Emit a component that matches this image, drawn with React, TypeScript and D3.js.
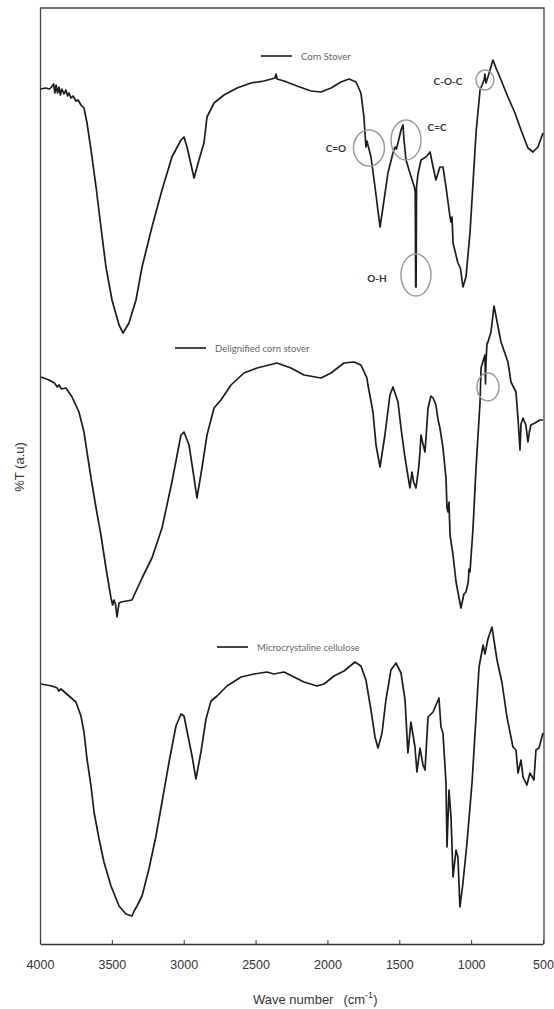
import React, { useEffect, useRef } from "react";
import * as d3 from "d3";

// x axis ticks (wave number, cm-1)
const waveTicks = [4000, 3500, 3000, 2500, 2000, 1500, 1000, 500];

// [wave number, %T in arbitrary units]
const cornStover: [number, number][] = [
  [3995, 855], [3960, 856], [3935, 855], [3920, 857], [3905, 860], [3897, 851], [3888, 859],
  [3878, 851], [3868, 857], [3858, 849], [3848, 855], [3833, 850], [3820, 854], [3808, 848],
  [3798, 851], [3785, 846], [3770, 848], [3750, 843], [3735, 844], [3715, 839], [3694, 836],
  [3673, 821], [3645, 794], [3610, 757], [3576, 717], [3541, 677], [3499, 644], [3450, 619],
  [3422, 611], [3381, 621], [3332, 644], [3290, 677], [3221, 717], [3151, 754], [3082, 787],
  [3019, 804], [2998, 807], [2977, 797], [2928, 766], [2894, 784], [2859, 801], [2838, 827],
  [2789, 841], [2720, 849], [2629, 856], [2532, 861], [2441, 863], [2365, 866], [2358, 870],
  [2350, 865], [2302, 863], [2212, 858], [2114, 853], [2045, 852], [1975, 856], [1906, 862],
  [1850, 865], [1801, 862], [1767, 851], [1746, 827], [1732, 797], [1725, 803], [1718, 799],
  [1697, 787], [1669, 757], [1634, 717], [1613, 737], [1579, 771], [1544, 791], [1530, 797],
  [1520, 795], [1509, 801], [1488, 814], [1474, 819], [1468, 805], [1453, 784], [1426, 771],
  [1395, 757], [1389, 752], [1386, 657], [1383, 657], [1380, 757], [1370, 770], [1349, 784],
  [1314, 787], [1286, 792], [1265, 777], [1245, 764], [1217, 777], [1196, 777], [1175, 757],
  [1147, 727], [1140, 722], [1133, 727], [1126, 701], [1092, 681], [1075, 676], [1057, 657],
  [1036, 667], [1008, 711], [987, 761], [966, 811], [938, 854], [910, 864], [904, 870],
  [897, 861], [883, 867], [848, 884], [827, 876], [792, 864], [744, 847], [695, 831],
  [653, 814], [605, 796], [570, 792], [535, 797], [500, 811],
];

const delignifiedStover: [number, number][] = [
  [3993, 567], [3937, 564], [3900, 561], [3880, 557], [3868, 559], [3850, 555], [3819, 556],
  [3777, 547], [3729, 532], [3694, 512], [3673, 492], [3645, 466], [3610, 436], [3576, 409],
  [3541, 376], [3506, 346], [3495, 339], [3485, 344], [3475, 340], [3464, 327], [3450, 341],
  [3436, 342], [3360, 344], [3290, 366], [3221, 386], [3151, 416], [3082, 462], [3019, 509],
  [2998, 512], [2963, 499], [2928, 466], [2908, 446], [2873, 476], [2838, 509], [2789, 536],
  [2741, 544], [2671, 559], [2581, 571], [2490, 576], [2351, 581], [2254, 576], [2163, 569],
  [2045, 566], [1975, 571], [1885, 581], [1815, 582], [1767, 579], [1725, 566], [1718, 559],
  [1683, 532], [1662, 499], [1634, 477], [1600, 509], [1565, 549], [1544, 557], [1509, 542],
  [1488, 516], [1460, 486], [1426, 456], [1412, 472], [1400, 462], [1384, 456], [1365, 476],
  [1356, 492], [1349, 509], [1335, 500], [1321, 492], [1300, 536], [1280, 548], [1265, 546],
  [1245, 539], [1230, 524], [1217, 516], [1196, 496], [1175, 466], [1168, 436], [1161, 432],
  [1154, 442], [1147, 409], [1126, 389], [1105, 362], [1071, 336], [1050, 350], [1036, 352],
  [1020, 362], [1015, 375], [1008, 372], [987, 416], [966, 476], [938, 542], [931, 576],
  [904, 589], [900, 560], [897, 580], [890, 600], [883, 602], [862, 612], [841, 638],
  [792, 602], [744, 582], [723, 562], [688, 552], [674, 526], [660, 494], [653, 520],
  [639, 526], [619, 519], [605, 502], [595, 512], [584, 519], [556, 521], [521, 524], [500, 524],
];

const microcrystallineCellulose: [number, number][] = [
  [3993, 260], [3917, 258], [3880, 256], [3870, 253], [3854, 255], [3798, 248], [3750, 242],
  [3715, 228], [3694, 212], [3673, 185], [3645, 158], [3624, 132], [3589, 105], [3555, 82],
  [3506, 58], [3450, 38], [3402, 30], [3360, 28], [3345, 33], [3325, 38], [3290, 48],
  [3242, 75], [3193, 108], [3151, 142], [3102, 182], [3054, 218], [3019, 230], [2998, 228],
  [2977, 213], [2942, 188], [2915, 165], [2880, 192], [2845, 225], [2810, 243], [2768, 248],
  [2699, 258], [2601, 267], [2511, 270], [2421, 272], [2372, 270], [2302, 272], [2233, 267],
  [2163, 262], [2073, 258], [2024, 260], [1954, 268], [1885, 273], [1808, 282], [1767, 278],
  [1732, 264], [1697, 234], [1669, 207], [1648, 196], [1620, 211], [1593, 244], [1558, 274],
  [1523, 281], [1488, 271], [1460, 244], [1440, 191], [1419, 222], [1391, 197], [1377, 172],
  [1356, 196], [1335, 179], [1321, 174], [1300, 227], [1265, 232], [1224, 246], [1210, 217],
  [1196, 211], [1175, 161], [1168, 97], [1154, 154], [1140, 127], [1126, 67], [1105, 94],
  [1092, 87], [1078, 37], [1057, 61], [1029, 101], [994, 161], [966, 227], [945, 277],
  [917, 299], [904, 290], [883, 305], [855, 317], [820, 284], [785, 261], [751, 227],
  [709, 197], [688, 194], [674, 171], [653, 184], [639, 167], [612, 159], [591, 171],
  [563, 164], [549, 194], [528, 196], [500, 211],
];

const seriesNames = ["Corn Stover", "Delignified corn stover", "Microcrystaline cellulose"];

// marked bands: label, wave number, level
const bandMarks = [
  { label: "C=O", wn: 1711, t: 796, rx: 15.5, ry: 18, dx: -33, dy: 0 },
  { label: "C=C", wn: 1453, t: 804, rx: 15, ry: 20, dx: 31, dy: -13 },
  { label: "O-H", wn: 1384, t: 669, rx: 15, ry: 21, dx: -39, dy: 3 },
  { label: "C-O-C", wn: 904, t: 864, rx: 9, ry: 10, dx: -37, dy: 1 },
  { label: "", wn: 883, t: 557, rx: 11, ry: 14, dx: 0, dy: 0 },
];

export default function App() {
  const ref = useRef<SVGSVGElement>(null);

  useEffect(() => {
    const svg = d3.select(ref.current);
    svg.selectAll("*").remove();

    const left = 40;
    const right = 543;
    const top = 8;
    const bottom = 944;

    const x = d3.scaleLinear().domain([4000, 500]).range([left, right]);
    const y = d3.scaleLinear().domain([0, 936]).range([bottom, top]);

    // frame
    svg
      .append("path")
      .attr("d", `M${left + 0.5},${bottom}V${top}H${right + 1}V${bottom}`)
      .attr("fill", "none")
      .attr("stroke", "#444")
      .attr("stroke-width", 1.3);

    // x axis
    const axis = svg
      .append("g")
      .attr("transform", `translate(0,${bottom})`)
      .call(
        d3
          .axisBottom(x)
          .tickValues(waveTicks)
          .tickFormat(d3.format("d"))
          .tickSizeInner(-4)
          .tickSizeOuter(0)
          .tickPadding(16)
      );
    axis.select(".domain").attr("stroke", "#333").attr("stroke-width", 1.4);
    axis.selectAll(".tick line").attr("stroke", "#333");
    axis
      .selectAll("text")
      .attr("font-family", "Liberation Sans, Arial, sans-serif")
      .attr("font-size", 12.5)
      .attr("fill", "#333");

    // axis titles
    const title = svg
      .append("text")
      .attr("x", 253)
      .attr("y", 1004)
      .attr("font-family", "Liberation Sans, Arial, sans-serif")
      .attr("font-size", 13)
      .attr("fill", "#333");
    title.append("tspan").text("Wave number");
    title.append("tspan").attr("dx", 10).text("(cm");
    title.append("tspan").attr("dy", -6).attr("font-size", 9).text("-1");
    title.append("tspan").attr("dy", 6).text(")");

    svg
      .append("text")
      .attr("transform", "translate(24,467) rotate(-90)")
      .attr("text-anchor", "middle")
      .attr("font-family", "Liberation Sans, Arial, sans-serif")
      .attr("font-size", 13)
      .attr("fill", "#333")
      .text("%T (a.u)");

    // spectra
    const line = d3
      .line<[number, number]>()
      .x((d) => x(d[0]))
      .y((d) => y(d[1]));

    [cornStover, delignifiedStover, microcrystallineCellulose].forEach((s) => {
      svg
        .append("path")
        .datum(s)
        .attr("d", line)
        .attr("fill", "none")
        .attr("stroke", "#1c1c1c")
        .attr("stroke-width", 1.7)
        .attr("stroke-linejoin", "round");
    });

    // legends, one over each spectrum
    const legendPos = [
      [261, 56],
      [175, 348],
      [217, 647],
    ];
    seriesNames.forEach((name, i) => {
      const [lx, ly] = legendPos[i];
      svg
        .append("line")
        .attr("x1", lx)
        .attr("x2", lx + 31)
        .attr("y1", ly)
        .attr("y2", ly)
        .attr("stroke", "#333")
        .attr("stroke-width", 1.8);
      svg
        .append("text")
        .attr("x", lx + 40)
        .attr("y", ly + 3.5)
        .attr("font-family", "Lato, Open Sans, sans-serif")
        .attr("font-size", 9.5)
        .attr("fill", "#666")
        .text(name);
    });

    // band marks
    bandMarks.forEach((m) => {
      const cx = x(m.wn);
      const cy = y(m.t);
      svg
        .append("ellipse")
        .attr("cx", cx)
        .attr("cy", cy)
        .attr("rx", m.rx)
        .attr("ry", m.ry)
        .attr("fill", "none")
        .attr("stroke", "#9a9a9a")
        .attr("stroke-width", 1.5);
      if (m.label) {
        svg
          .append("text")
          .attr("x", cx + m.dx)
          .attr("y", cy + m.dy + 3.5)
          .attr("text-anchor", "middle")
          .attr("font-family", "Lato, Open Sans, sans-serif")
          .attr("font-weight", "bold")
          .attr("font-size", 10)
          .attr("fill", "#333")
          .text(m.label);
      }
    });
  }, []);

  return (
    <svg
      ref={ref}
      width={554}
      height={1009}
      style={{ position: "absolute", left: 0, top: 0, display: "block", background: "#fff" }}
    ></svg>
  );
}
